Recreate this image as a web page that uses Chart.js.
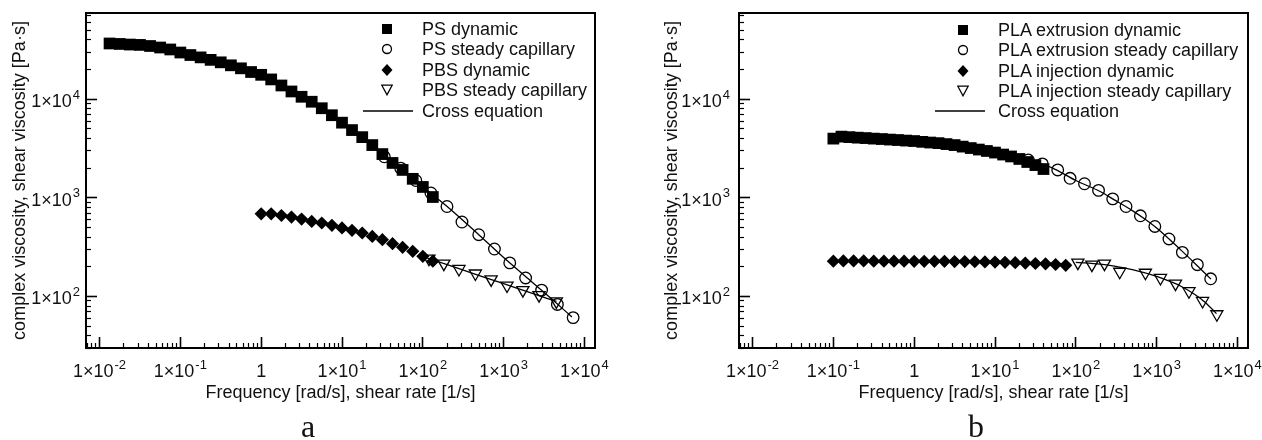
<!DOCTYPE html>
<html>
<head>
<meta charset="utf-8">
<script src="https://cdn.jsdelivr.net/npm/chart.js@4.4.0/dist/chart.umd.min.js"></script>
<style>
  html, body { margin: 0; padding: 0; background: #fff; }
  #page { position: relative; width: 1262px; height: 440px; overflow: hidden; font-family: "Liberation Sans", Arial, sans-serif; color: #111; }
  #page canvas { position: absolute; top: 0; }
  .row { position: absolute; height: 20px; line-height: 20px; font-size: 18px; white-space: nowrap; }
  .row svg { position: absolute; }
  .row span { position: absolute; top: 0; }
  .panel { position: absolute; width: 40px; text-align: center; font-family: "Liberation Serif", "Times New Roman", serif; font-size: 32px; line-height: 32px; color: #111; }
</style>
</head>
<body>
<div id="page">
  <canvas id="ChartPanelA" width="631" height="440" style="left:0px"></canvas>
  <canvas id="ChartPanelB" width="631" height="440" style="left:631px"></canvas>
  <div class="panel" style="left:288px;top:410px">a</div>
  <div class="panel" style="left:956px;top:410px">b</div>
</div>
<script>
// ---- axes ----
const xTickValues = [0.01, 0.1, 1, 10, 100, 1000, 10000];
const xTickBase = ['1×10', '1×10', '1', '1×10', '1×10', '1×10', '1×10'];
const xTickExp = ['-2', '-1', '', '1', '2', '3', '4'];
const yTickValues = [100, 1000, 10000];
const yTickBase = ['1×10', '1×10', '1×10'];
const yTickExp = ['2', '3', '4'];
const xDecades = [0.001, 0.01, 0.1, 1, 10, 100, 1000, 10000];
const yDecades = [10, 100, 1000, 10000];
const minorSteps = [2, 3, 4, 5, 6, 7, 8, 9];
const xMin = 0.0068, xMax = 13500;
const yMin = 30, yMax = 75000;
const xTitle = 'Frequency [rad/s], shear rate [1/s]';
const yTitle = 'complex viscosity, shear viscosity [Pa·s]';

// ---- panel a : PS / PBS ----
const psDynFreq = [0.0133, 0.0178, 0.0237, 0.0316, 0.0422, 0.0562, 0.075, 0.1, 0.133, 0.178, 0.237, 0.316, 0.422, 0.562, 0.75, 1, 1.33, 1.78, 2.37, 3.16, 4.22, 5.62, 7.5, 10, 13.3, 17.8, 23.7, 31.6, 42.2, 56.2, 75, 100, 133];
const psDynEta = [36800, 36400, 35900, 35600, 34700, 33500, 32000, 29800, 28100, 26600, 25100, 23700, 22100, 20600, 18900, 17700, 15900, 13800, 12000, 10600, 9440, 8110, 6890, 5790, 4870, 4130, 3430, 2780, 2260, 1920, 1560, 1290, 1020];
const psCapRate = [33.4, 53.3, 81.9, 126, 199, 305, 492, 769, 1190, 1870, 2950, 4620, 7240];
const psCapEta = [2610, 2000, 1500, 1120, 817, 569, 423, 303, 219, 154, 116, 83, 61];
const pbsDynFreq = [1, 1.33, 1.78, 2.37, 3.16, 4.22, 5.62, 7.5, 10, 13.3, 17.8, 23.7, 31.6, 42.2, 56.2, 75, 100, 133];
const pbsDynEta = [689, 689, 662, 638, 609, 577, 556, 526, 495, 468, 440, 406, 377, 343, 315, 287, 255, 228];
const pbsCapRate = [119, 182, 280, 447, 700, 1100, 1730, 2740, 4490];
const pbsCapEta = [242, 215, 190, 171, 149, 129, 116, 103, 89];
const psCrossRate = [30, 50, 100, 200, 500, 1000, 2000, 4000, 7000];
const psCrossEta = [2790, 2075, 1294, 817, 418, 248, 152, 93, 62];
const pbsCrossRate = [100, 200, 500, 1000, 2000, 4500];
const pbsCrossEta = [254, 210, 163, 135, 111, 89];

// ---- panel b : PLA ----
const plaExtDynFreq = [0.1, 0.126, 0.158, 0.2, 0.251, 0.316, 0.398, 0.501, 0.631, 0.794, 1, 1.26, 1.58, 2, 2.51, 3.16, 3.98, 5.01, 6.31, 7.94, 10, 12.6, 15.8, 20, 25.1, 31.6, 39.8];
const plaExtDynEta = [3990, 4180, 4130, 4080, 4040, 3990, 3950, 3900, 3860, 3810, 3770, 3700, 3640, 3590, 3510, 3430, 3310, 3200, 3090, 2990, 2880, 2750, 2630, 2480, 2310, 2150, 1960];
const plaExtCapRate = [25.8, 38.5, 59.7, 84.9, 128, 191, 286, 418, 629, 950, 1420, 2080, 3190, 4660];
const plaExtCapEta = [2420, 2210, 1920, 1580, 1390, 1190, 977, 817, 658, 513, 383, 280, 210, 151];
const plaInjDynFreq = [0.1, 0.133, 0.178, 0.237, 0.316, 0.422, 0.562, 0.75, 1, 1.33, 1.78, 2.37, 3.16, 4.22, 5.62, 7.5, 10, 13.3, 17.8, 23.7, 31.6, 42.2, 56.2, 75];
const plaInjDynEta = [228, 229, 229, 229, 228, 228, 228, 228, 227, 227, 227, 227, 226, 226, 225, 224, 223, 222, 220, 218, 216, 214, 211, 207];
const plaInjCapRate = [106, 158, 226, 349, 726, 1115, 1710, 2510, 3700, 5560];
const plaInjCapEta = [220, 210, 215, 178, 174, 154, 135, 113, 90, 66];
const plaExtCrossRate = [25, 50, 100, 200, 300, 500, 700, 1000, 2000, 3000, 4700];
const plaExtCrossEta = [2430, 2030, 1500, 1160, 955, 743, 617, 494, 295, 215, 150];
const plaInjCrossRate = [100, 200, 300, 500, 1000, 1500, 2000, 3000, 4000, 5500];
const plaInjCrossEta = [222, 213, 203, 187, 160, 141, 127, 104, 87, 67];

const legendA = ['PS dynamic', 'PS steady capillary', 'PBS dynamic', 'PBS steady capillary', 'Cross equation'];
const legendB = ['PLA extrusion dynamic', 'PLA extrusion steady capillary', 'PLA injection dynamic', 'PLA injection steady capillary', 'Cross equation'];

const FONT = '"Liberation Sans", Arial, sans-serif';
const INK = '#111';

function pts(xs, ys) {
    return xs.map(function (x, i) { return { x: x, y: ys[i] }; });
}

function minorTicks(decades, lo, hi) {
    var out = [];
    decades.forEach(function (d) {
        minorSteps.forEach(function (k) {
            var v = d * k;
            if (v >= lo && v <= hi) out.push({ value: v });
        });
    });
    return out;
}

// marker styles
function squares(label, data) {
    return { label: label, data: data, pointStyle: 'rect', pointRadius: 8.3, backgroundColor: '#000', borderWidth: 0 };
}
function circles(label, data) {
    return { label: label, data: data, pointStyle: 'circle', pointRadius: 5.8, backgroundColor: 'rgba(0,0,0,0)', borderColor: '#000', borderWidth: 1.3 };
}
function diamonds(label, data) {
    return { label: label, data: data, pointStyle: 'rectRot', pointRadius: 6.6, backgroundColor: '#000', borderWidth: 0 };
}
function triangles(label, data) {
    return { label: label, data: data, pointStyle: 'triangle', pointRotation: 180, pointRadius: 7, backgroundColor: 'rgba(0,0,0,0)', borderColor: '#000', borderWidth: 1.3 };
}
function crossLine(data) {
    return { label: 'Cross equation', data: data, showLine: true, pointRadius: 0, borderColor: '#000', borderWidth: 1.3, cubicInterpolationMode: 'monotone', fill: false };
}

function frameAxis(pos, min, max) {
    return {
        type: 'logarithmic', position: pos, min: min, max: max,
        afterFit: function (s) { if (s.isHorizontal()) s.height = 0; else s.width = 0; },
        ticks: { display: false },
        grid: { drawOnChartArea: false, drawTicks: false },
        border: { display: true, color: '#000', width: 2 }
    };
}

// "1x10" + raised exponent, placed on the scale's own pixel for the tick value
function drawExpLabel(ctx, base, exp, x, y, align) {
    ctx.font = '18px ' + FONT;
    var wb = ctx.measureText(base).width;
    ctx.font = '13px ' + FONT;
    var we = exp ? ctx.measureText(exp).width + 1 : 0;
    var left = align === 'center' ? x - (wb + we) / 2 : x - wb - we;
    ctx.textAlign = 'left';
    ctx.textBaseline = 'alphabetic';
    ctx.font = '18px ' + FONT;
    ctx.fillText(base, left, y);
    if (exp) {
        ctx.font = '13px ' + FONT;
        ctx.fillText(exp, left + wb + 1, y - 8.5);
    }
}

function tickLabelPlugin(yLabelRight) {
    return {
        id: 'expTickLabels',
        afterDraw: function (chart) {
            var ctx = chart.ctx;
            var xs = chart.scales.x, ys = chart.scales.y;
            ctx.save();
            ctx.fillStyle = INK;
            xTickValues.forEach(function (v, i) {
                drawExpLabel(ctx, xTickBase[i], xTickExp[i], xs.getPixelForValue(v), xs.top + 29, 'center');
            });
            yTickValues.forEach(function (v, i) {
                drawExpLabel(ctx, yTickBase[i], yTickExp[i], yLabelRight, ys.getPixelForValue(v) + 8, 'right');
            });
            ctx.restore();
        }
    };
}

function makeChart(canvasId, datasets, lay) {
    var ctx = document.getElementById(canvasId).getContext('2d');
    return new Chart(ctx, {
        type: 'scatter',
        data: { datasets: datasets },
        plugins: [tickLabelPlugin(lay.yLabelRight)],
        options: {
            responsive: false,
            animation: false,
            events: [],
            layout: { padding: { left: 0, top: 13, right: lay.right, bottom: 36 } },
            plugins: { legend: { display: false }, tooltip: { enabled: false } },
            scales: {
                x: {
                    type: 'logarithmic', position: 'bottom', weight: 2, min: xMin, max: xMax,
                    afterBuildTicks: function (s) { s.ticks = xTickValues.map(function (v) { return { value: v, major: true }; }); },
                    afterFit: function (s) { s.height = 56; },
                    ticks: { display: false },
                    grid: { drawOnChartArea: false, drawTicks: true, tickLength: -11, tickWidth: 1.6, color: '#000' },
                    border: { display: true, color: '#000', width: 2 },
                    title: { display: true, text: xTitle, color: INK, font: { family: FONT, size: 18 }, padding: { top: 0, bottom: 0 } }
                },
                xMinor: {
                    type: 'logarithmic', position: 'bottom', weight: 1, min: xMin, max: xMax,
                    afterBuildTicks: function (s) { s.ticks = minorTicks(xDecades, xMin, xMax); },
                    afterFit: function (s) { s.height = 0; },
                    ticks: { display: false },
                    grid: { drawOnChartArea: false, drawTicks: true, tickLength: -5, tickWidth: 1.2, color: '#000' },
                    border: { display: false }
                },
                xTop: frameAxis('top', xMin, xMax),
                y: {
                    type: 'logarithmic', position: 'left', weight: 2, min: yMin, max: yMax,
                    afterBuildTicks: function (s) { s.ticks = yTickValues.map(function (v) { return { value: v, major: true }; }); },
                    afterFit: function (s) { s.width = lay.yWidth; },
                    ticks: { display: false },
                    grid: { drawOnChartArea: false, drawTicks: true, tickLength: -11, tickWidth: 1.6, color: '#000' },
                    border: { display: true, color: '#000', width: 2 },
                    title: { display: true, text: yTitle, color: INK, font: { family: FONT, size: 18 }, padding: { top: lay.yTitlePad, bottom: 0 } }
                },
                yMinor: {
                    type: 'logarithmic', position: 'left', weight: 1, min: yMin, max: yMax,
                    afterBuildTicks: function (s) { s.ticks = minorTicks(yDecades, yMin, yMax); },
                    afterFit: function (s) { s.width = 0; },
                    ticks: { display: false },
                    grid: { drawOnChartArea: false, drawTicks: true, tickLength: -5, tickWidth: 1.2, color: '#000' },
                    border: { display: false }
                },
                yRight: frameAxis('right', yMin, yMax)
            }
        }
    });
}

// legend drawn as html rows (marker + text)
var legendMarks = [
    '<svg width="12" height="12"><rect x="1" y="1" width="10" height="10" fill="#000"/></svg>',
    '<svg width="12" height="12"><circle cx="6" cy="6" r="4.5" fill="none" stroke="#000" stroke-width="1.3"/></svg>',
    '<svg width="12" height="12"><polygon points="6,0 11.5,6 6,12 0.5,6" fill="#000"/></svg>',
    '<svg width="12" height="12"><polygon points="0.8,1.2 11.2,1.2 6,10.8" fill="none" stroke="#000" stroke-width="1.3"/></svg>'
];

function buildLegend(labels, lineX, markX, textX, rowsY) {
    var page = document.getElementById('page');
    labels.forEach(function (txt, i) {
        var row = document.createElement('div');
        row.className = 'row';
        row.style.left = lineX + 'px';
        row.style.top = (rowsY[i] - 10) + 'px';
        var mark;
        if (i < 4) {
            mark = legendMarks[i].replace('<svg ', '<svg style="left:' + (markX - lineX - 6) + 'px;top:4px" ');
        } else {
            mark = '<svg width="50" height="12" style="left:0px;top:4px"><line x1="0" y1="6" x2="50" y2="6" stroke="#000" stroke-width="1.3"/></svg>';
        }
        row.innerHTML = mark + '<span style="left:' + (textX - lineX) + 'px">' + txt + '</span>';
        page.appendChild(row);
    });
}

window.ChartA = makeChart('ChartPanelA', [
    circles('PS steady capillary', pts(psCapRate, psCapEta)),
    triangles('PBS steady capillary', pts(pbsCapRate, pbsCapEta)),
    squares('PS dynamic', pts(psDynFreq, psDynEta)),
    diamonds('PBS dynamic', pts(pbsDynFreq, pbsDynEta)),
    crossLine(pts(psCrossRate, psCrossEta)),
    crossLine(pts(pbsCrossRate, pbsCrossEta))
], { right: 36, yWidth: 86, yLabelRight: 80, yTitlePad: 9 });

window.ChartB = makeChart('ChartPanelB', [
    circles('PLA extrusion steady capillary', pts(plaExtCapRate, plaExtCapEta)),
    triangles('PLA injection steady capillary', pts(plaInjCapRate, plaInjCapEta)),
    squares('PLA extrusion dynamic', pts(plaExtDynFreq, plaExtDynEta)),
    diamonds('PLA injection dynamic', pts(plaInjDynFreq, plaInjDynEta)),
    crossLine(pts(plaExtCrossRate, plaExtCrossEta)),
    crossLine(pts(plaInjCrossRate, plaInjCrossEta))
], { right: 14, yWidth: 108, yLabelRight: 99, yTitlePad: 30 });

buildLegend(legendA, 363, 387, 422, [28.5, 49, 69.5, 90, 110.5]);
buildLegend(legendB, 935, 963, 998, [29.5, 50, 70.5, 91, 110.5]);
</script>
</body>
</html>
